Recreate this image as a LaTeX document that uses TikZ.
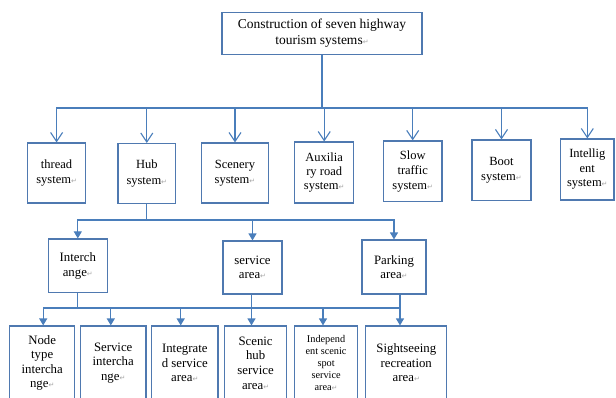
\documentclass[tikz,border=0pt]{standalone}
\usepackage{fontspec}
\setmainfont{Liberation Serif}
\newfontfamily\symfont{DejaVu Sans}
\usetikzlibrary{arrows.meta,calc}
\definecolor{lb}{RGB}{74,126,187}
\definecolor{bb}{RGB}{79,121,176}
\newcommand{\parmark}{{\symfont\fontsize{7}{7}\selectfont\textcolor{gray!70}{↵}}}
\begin{document}
\begin{tikzpicture}[x=1pt,y=-1pt,
  box/.style={draw=bb, line width=1.1pt, align=center, inner sep=0pt, fill=white},
  fa/.style={font=\fontsize{13.5}{16.5}\selectfont},
  fb/.style={font=\fontsize{12.5}{15.5}\selectfont},
  fc/.style={font=\fontsize{12.8}{14.6}\selectfont},
  fd/.style={font=\fontsize{10.3}{12}\selectfont},
  ln/.style={draw=lb, line width=1.1pt},
  arrv/.style={ln, -{Straight Barb[length=9pt,width=12pt,line width=1.1pt]}},
  arrt/.style={ln, -{Triangle[length=7pt,width=8pt]}}]
\useasboundingbox (0,0) rectangle (616,397);
\clip (0,0) rectangle (616,397);

% top
\node[box,fa,minimum width=200pt,minimum height=42pt] (top) at (322,33.3) {Construction of seven highway\\tourism systems\parmark};

% level 2
\node[box,fb,minimum width=58pt,minimum height=60pt] (thread) at (56.6,173) {thread\\system\parmark};
\node[box,fb,minimum width=57.6pt,minimum height=60pt] (hub) at (146.8,173.5) {Hub\\system\parmark};
\node[box,fb,minimum width=66.8pt,minimum height=60pt] (scen) at (235,173) {Scenery\\system\parmark};
\node[box,font=\fontsize{12.5}{14.3}\selectfont,minimum width=59pt,minimum height=61pt] (aux) at (324.2,172.5) {Auxilia\\ry road\\system\parmark};
\node[box,font=\fontsize{12.5}{15}\selectfont,minimum width=58.5pt,minimum height=60.7pt] (slow) at (412.7,171.3) {Slow\\traffic\\system\parmark};
\node[box,fb,minimum width=59pt,minimum height=60.7pt] (boot) at (501.5,170.3) {Boot\\system\parmark};
\node[box,font=\fontsize{12.5}{14.5}\selectfont,minimum width=53.3pt,minimum height=61pt] (intel) at (587.3,169.5) {Intellig\\ent\\system\parmark};

% level 3
\node[box,fc,minimum width=59pt,minimum height=53.7pt] (inter) at (77.8,265.8) {Interch\\ange\parmark};
\node[box,fc,minimum width=59pt,minimum height=53pt] (serv) at (252.5,267.5) {service\\area\parmark};
\node[box,fc,minimum width=64pt,minimum height=54pt] (park) at (394,267) {Parking\\area\parmark};

% level 4
\node[box,fc,minimum width=65pt,minimum height=74pt] (nodet) at (42.2,363) {Node\\type\\intercha\\nge\parmark};
\node[box,fc,minimum width=65.5pt,minimum height=74pt] (servint) at (113.2,363) {Service\\intercha\\nge\parmark};
\node[box,fc,minimum width=66.3pt,minimum height=74pt] (integ) at (184.8,363) {Integrate\\d service\\area\parmark};
\node[box,fc,minimum width=62.4pt,minimum height=74pt] (scenic) at (255.6,363) {Scenic\\hub\\service\\area\parmark};
\node[box,fd,minimum width=63pt,minimum height=74pt] (indep) at (326.1,363) {Independ\\ent scenic\\spot\\service\\area\parmark};
\node[box,fc,minimum width=81pt,minimum height=74pt] (sight) at (406.3,363) {Sightseeing\\recreation\\area\parmark};

% buses
\coordinate (bus1) at (0,108);
\coordinate (bus2) at (0,220);
\coordinate (bus3) at (0,308);

% top connectors
\draw[ln] (top.south) -- (top.south |- bus1);
\foreach \c in {thread,hub,scen,aux,slow,boot,intel}
  \draw[arrv] (top.south |- bus1) -| (\c.north);

% hub connectors
\draw[ln] (hub.south) -- (hub.south |- bus2);
\foreach \c in {inter,serv,park}
  \draw[arrt] (hub.south |- bus2) -| (\c.north);

% level 4 connectors
\coordinate (servout) at ($(serv.south)+(-1,0)$);
\coordinate (parkout) at ($(park.south)+(6,0)$);
\draw[ln] (inter.south) -- (inter.south |- bus3);
\draw[ln] (parkout) -- (parkout |- bus3);
\draw[ln] (inter.south |- bus3) -- (parkout |- bus3);
\draw[arrt] (inter.south |- bus3) -| ($(nodet.north)+(1,0)$);
\draw[arrt] (inter.south |- bus3) -| ($(servint.north)+(-2.4,0)$);
\draw[arrt] (inter.south |- bus3) -| ($(integ.north)+(-4.1,0)$);
\draw[arrt] (servout) -- (servout |- scenic.north);
\draw[arrt] (parkout |- bus3) -| ($(indep.north)+(-3.1,0)$);
\draw[arrt] (parkout) -- (parkout |- sight.north);
\end{tikzpicture}
\end{document}
